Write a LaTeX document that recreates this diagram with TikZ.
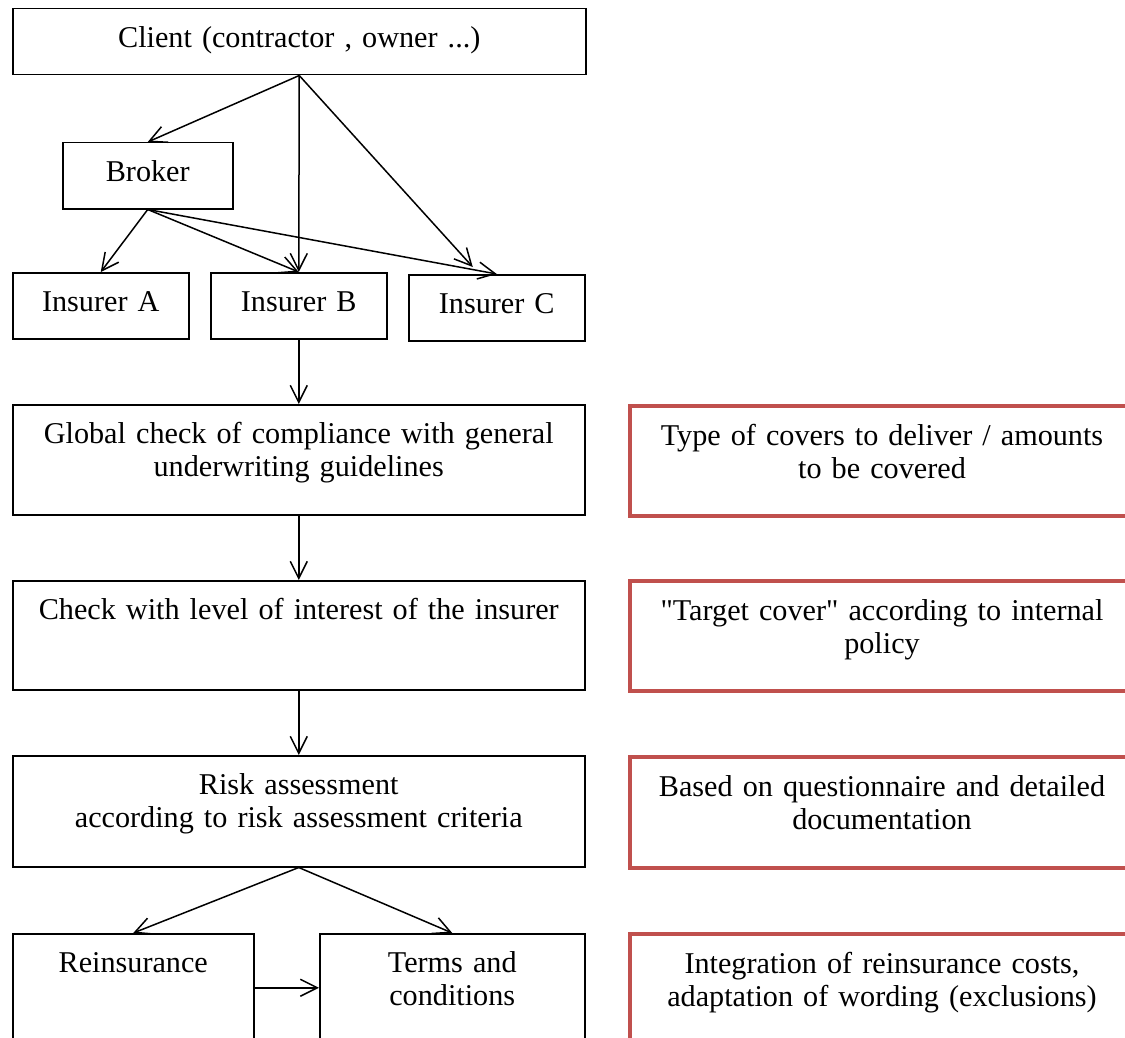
\documentclass[tikz,border=0pt]{standalone}
\usepackage{fontspec}
\setmainfont{Liberation Serif}
\usetikzlibrary{arrows.meta}
\definecolor{noteRed}{HTML}{C0504D}
\tikzset{
  flow/.style 2 args={draw, anchor=north west, inner sep=0pt, align=center,
    text width=#1, text height=19.5pt, text depth=#2},
  note/.style={flow={252pt}{#1}, draw=noteRed, line width=2pt},
}
\begin{document}
\begin{tikzpicture}[x=0.5pt, y=-0.5pt, line width=0.75pt,
    >={Straight Barb[length=8.5pt,width=8.5pt]}, font=\fontsize{15.1}{16.5}\selectfont]
  \useasboundingbox (0,0) rectangle (1125,1038);
  \clip (0,0) rectangle (1125,1038);

  \node[flow={286.5pt}{13.5pt}] (client) at (12,8) {Client (contractor , owner ...)};
  \node[flow={85pt}{13.5pt}] (broker) at (62,142) {Broker};
  \node[flow={88pt}{13.5pt}] (insA) at (12,272) {Insurer A};
  \node[flow={88pt}{13.5pt}] (insB) at (210,272) {Insurer B};
  \node[flow={88pt}{13.5pt}] (insC) at (408,274) {Insurer C};
  \node[flow={286pt}{35.5pt}] (glob) at (12,404) {Global check of compliance with general\\ underwriting guidelines};
  \node[flow={286pt}{35pt}] (level) at (12,580) {Check with level of interest of the insurer};
  \node[flow={286pt}{36pt}] (risk) at (12,755) {Risk assessment\\ according to risk assessment criteria};
  \node[flow={120.5pt}{34.5pt}] (reins) at (12,933) {Reinsurance};
  \node[flow={132.5pt}{34.5pt}] (terms) at (319,933) {Terms and\\ conditions};

  \node[note={35.5pt}] (covers) at (628,404) {Type of covers to deliver / amounts\\ to be covered};
  \node[note={35.5pt}] (target) at (628,579) {\textquotedbl Target cover\textquotedbl{} according to internal\\ policy};
  \node[note={36pt}] (quest) at (628,755) {Based on questionnaire and detailed\\ documentation};
  \node[note={35pt}] (costs) at (628,932) {Integration of reinsurance costs,\\ adaptation of wording (exclusions)};

  \draw[->] (client.south) -- (broker.north);
  \draw[->] (client.south) -- (insB.north);
  \draw[->] (client.south) -- ([xshift=-12pt, yshift=3.5pt]insC.north);
  \draw[->] (broker.south) -- (insA.north);
  \draw[->] (broker.south) -- (insB.north);
  \draw[->] (broker.south) -- (insC.north);
  \draw[->] (insB.south) -- (glob.north);
  \draw[->] (glob.south) -- (level.north);
  \draw[->] (level.south) -- (risk.north);
  \draw[->] (risk.south) -- (reins.north);
  \draw[->] (risk.south) -- (terms.north);
  \draw[->] (reins.east) -- (terms.west);
\end{tikzpicture}
\end{document}
